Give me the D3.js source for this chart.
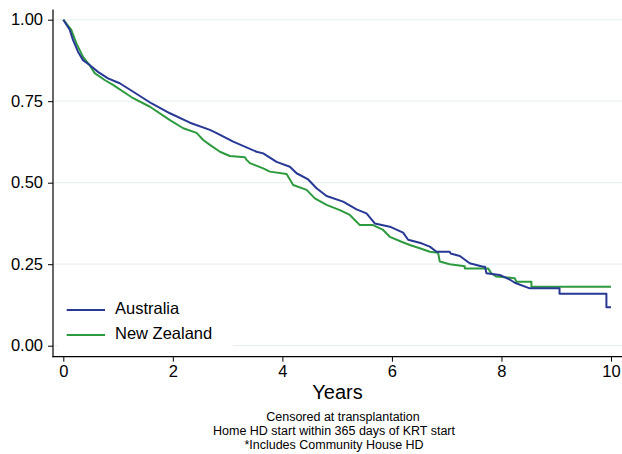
<!DOCTYPE html>
<html>
<head>
<meta charset="utf-8">
<script src="https://cdn.jsdelivr.net/npm/d3@7"></script>
<style>
  html, body { margin: 0; padding: 0; background: #fff; }
  svg { display: block; font-family: "Liberation Sans", Arial, sans-serif; }
</style>
</head>
<body>
<svg id="chart" width="622" height="454"></svg>
<script>
// ---- data (repeated times mark visible vertical drops) ----
const seriesNames = ["Australia", "New Zealand"];
const auTime = [0, 0.117, 0.177, 0.268, 0.36, 0.48, 0.633, 0.816, 1.03, 1.277, 1.613, 1.947, 2.312, 2.677, 2.80, 3.102, 3.529, 3.65, 3.894, 4.137, 4.259, 4.471, 4.624, 4.807, 5.109, 5.354, 5.536, 5.688, 5.962, 6.204, 6.296, 6.54, 6.692, 6.814, 7.056, 7.07, 7.24, 7.42, 7.664, 7.70, 7.726, 7.969, 8.151, 8.243, 8.516, 9.06, 9.06, 9.916, 9.916, 10.0];
const auSurv = [1.0, 0.969, 0.938, 0.902, 0.876, 0.861, 0.840, 0.820, 0.805, 0.779, 0.743, 0.713, 0.684, 0.662, 0.652, 0.626, 0.595, 0.590, 0.564, 0.549, 0.529, 0.510, 0.483, 0.459, 0.442, 0.418, 0.406, 0.375, 0.365, 0.347, 0.325, 0.314, 0.304, 0.288, 0.288, 0.283, 0.275, 0.253, 0.242, 0.242, 0.222, 0.217, 0.203, 0.193, 0.176, 0.176, 0.159, 0.159, 0.118, 0.118];
const nzTime = [0, 0.146, 0.237, 0.36, 0.48, 0.573, 0.755, 0.907, 1.248, 1.582, 1.947, 2.19, 2.434, 2.555, 2.677, 2.86, 3.04, 3.316, 3.347, 3.407, 3.65, 3.772, 4.077, 4.197, 4.442, 4.593, 4.807, 5.049, 5.232, 5.414, 5.657, 5.839, 5.962, 6.175, 6.327, 6.509, 6.692, 6.843, 6.874, 7.056, 7.33, 7.33, 7.755, 7.817, 7.91, 8.243, 8.274, 8.547, 8.547, 10.0];
const nzSurv = [1.0, 0.969, 0.928, 0.886, 0.861, 0.836, 0.815, 0.800, 0.762, 0.733, 0.692, 0.667, 0.653, 0.631, 0.616, 0.595, 0.582, 0.578, 0.570, 0.560, 0.544, 0.534, 0.527, 0.493, 0.478, 0.452, 0.432, 0.416, 0.401, 0.370, 0.370, 0.355, 0.334, 0.319, 0.309, 0.299, 0.288, 0.285, 0.258, 0.250, 0.244, 0.237, 0.237, 0.222, 0.212, 0.207, 0.196, 0.196, 0.181, 0.181];
const xTicks = [0, 2, 4, 6, 8, 10];
const yTicks = [0, 0.25, 0.5, 0.75, 1.0];
const xTitle = "Years";
const notes = ["Censored at transplantation", "Home HD start within 365 days of KRT start", "*Includes Community House HD"];

// ---- layout ----
const colors = ["#283895", "#2e9a3e"];
const svg = d3.select("#chart");
const axisLeftX = 53, axisBottomY = 356.7, rightEdge = 622;
const x = d3.scaleLinear().domain([0, 10]).range([63.3, 611]);
const y = d3.scaleLinear().domain([0, 1]).range([345.7, 19.7]);

svg.append("rect").attr("width", 622).attr("height", 454).attr("fill", "#fff");

// gridlines
svg.append("g").selectAll("line").data(yTicks).join("line")
  .attr("x1", axisLeftX).attr("x2", rightEdge)
  .attr("y1", d => y(d)).attr("y2", d => y(d))
  .attr("stroke", "#eaf1f3").attr("stroke-width", 1.2);

// y axis
const yAxis = d3.axisLeft(y).tickValues(yTicks).tickFormat(d3.format(".2f")).tickSize(5).tickPadding(5);
const gy = svg.append("g").attr("transform", `translate(${axisLeftX},0)`).call(yAxis);
gy.select(".domain").remove();
gy.selectAll(".tick line").attr("stroke", "#000");
gy.selectAll(".tick text").attr("font-size", "16.5px").attr("fill", "#000")
  .attr("font-family", "Liberation Sans, Arial, sans-serif");
svg.append("line").attr("x1", axisLeftX).attr("x2", axisLeftX)
  .attr("y1", 9.5).attr("y2", axisBottomY + 0.5).attr("stroke", "#000").attr("stroke-width", 1.2);

// x axis
const xAxis = d3.axisBottom(x).tickValues(xTicks).tickFormat(d3.format("d")).tickSize(5).tickPadding(4);
const gx = svg.append("g").attr("transform", `translate(0,${axisBottomY})`).call(xAxis);
gx.select(".domain").remove();
gx.selectAll(".tick line").attr("stroke", "#000");
gx.selectAll(".tick text").attr("font-size", "16.5px").attr("fill", "#000")
  .attr("font-family", "Liberation Sans, Arial, sans-serif");
svg.append("line").attr("x1", axisLeftX - 0.5).attr("x2", rightEdge)
  .attr("y1", axisBottomY).attr("y2", axisBottomY).attr("stroke", "#000").attr("stroke-width", 1.2);

// curves
const series = [
  auTime.map((t, i) => [t, auSurv[i]]),
  nzTime.map((t, i) => [t, nzSurv[i]])
];
const line = d3.line().x(d => x(d[0])).y(d => y(d[1])).curve(d3.curveLinear);
[1, 0].forEach(i => {
  svg.append("path").datum(series[i]).attr("d", line)
    .attr("fill", "none").attr("stroke", colors[i]).attr("stroke-width", 2)
    .attr("stroke-linejoin", "round");
});

// legend
const lg = svg.append("g");
lg.append("rect").attr("x", 58).attr("y", 292).attr("width", 175).attr("height", 58).attr("fill", "#fff");
const legendY = [310, 335];
seriesNames.forEach((n, i) => {
  lg.append("line").attr("x1", 66.7).attr("x2", 105).attr("y1", legendY[i]).attr("y2", legendY[i])
    .attr("stroke", colors[i]).attr("stroke-width", 2);
  lg.append("text").attr("x", 115).attr("y", legendY[i] + 3.5 + i * 0.5).attr("font-size", "16.5px")
    .attr("fill", "#000").text(n);
});

// axis title
svg.append("text").attr("x", 337.5).attr("y", 399.3).attr("text-anchor", "middle")
  .attr("font-size", "20px").attr("fill", "#000").text(xTitle);

// notes
const noteX = [343, 334, 334];
notes.forEach((t, i) => {
  svg.append("text").attr("x", noteX[i]).attr("y", 420.5 + i * 14).attr("text-anchor", "middle")
    .attr("font-size", "12.5px").attr("fill", "#000").text(t);
});
</script>
</body>
</html>
